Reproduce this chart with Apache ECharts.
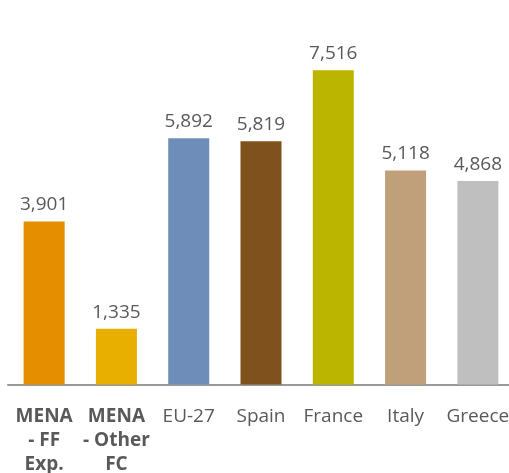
<!DOCTYPE html>
<html>
<head>
<meta charset="utf-8">
<script src="https://cdn.jsdelivr.net/npm/echarts@6/dist/echarts.min.js"></script>
<style>
html,body{margin:0;padding:0;background:#fff;}
#chart{width:509px;height:473px;}
</style>
</head>
<body>
<div id="chart"></div>
<script>
// categories and values
var categories = ['MENA\n- FF\nExp.', 'MENA\n- Other\nFC', 'EU-27', 'Spain', 'France', 'Italy', 'Greece'];
var values = [3901, 1335, 5892, 5819, 7516, 5118, 4868];
var barColors = ['#E48E00', '#E8AF00', '#6E8DB8', '#7F511C', '#BBB500', '#BFA07A', '#BFBFBF'];
var boldCats = [0, 1];

var chart = echarts.init(document.getElementById('chart'));

var data = [];
for (var i = 0; i < values.length; i++) {
	data.push({ value: values[i], itemStyle: { color: barColors[i] } });
}

var option = {
	animation: false,
	backgroundColor: '#fff',
	grid: { left: 8, width: 506, top: 50, height: 334.5, containLabel: false, outerBoundsMode: 'none' },
	xAxis: {
		type: 'category',
		data: categories,
		axisLine: { lineStyle: { color: '#999', width: 2 } },
		axisTick: { show: false },
		axisLabel: {
			margin: 20,
			interval: 0,
			formatter: function (v, idx) {
				if (boldCats.indexOf(idx) >= 0) return '{b|' + v + '}';
				return v;
			},
			color: '#595959',
			fontFamily: 'Open Sans',
			fontSize: 19,
			lineHeight: 24,
			rich: {
				b: { fontWeight: 'bold', fontFamily: 'Open Sans', fontSize: 19, lineHeight: 24, color: '#595959' }
			}
		}
	},
	yAxis: {
		type: 'value',
		min: 0,
		max: 8000,
		show: false,
		splitLine: { show: false }
	},
	series: [{
		type: 'bar',
		barWidth: 41,
		data: data,
		label: {
			show: true,
			position: 'top',
			distance: 7,
			color: '#595959',
			fontFamily: 'Open Sans',
			fontSize: 19,
			formatter: function (p) { return p.value.toLocaleString('en-US'); }
		}
	}]
};
chart.setOption(option);
</script>
</body>
</html>
